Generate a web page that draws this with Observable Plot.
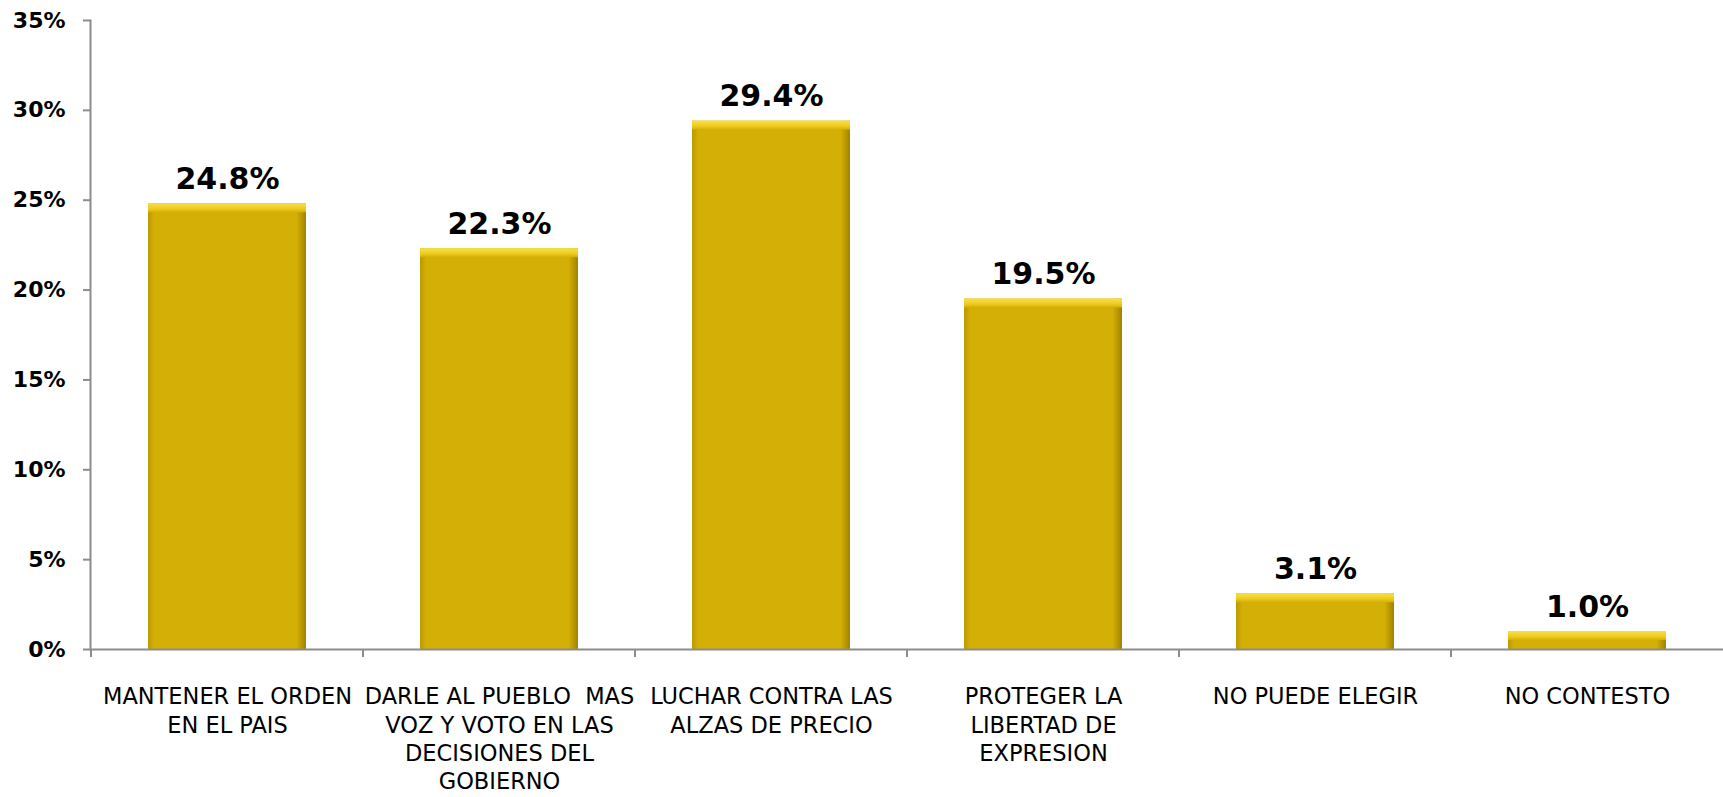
<!DOCTYPE html>
<html>
<head>
<meta charset="utf-8">
<script src="https://cdn.jsdelivr.net/npm/d3@7"></script>
<script src="https://cdn.jsdelivr.net/npm/@observablehq/plot@0.6"></script>
<style>
  html, body { margin: 0; padding: 0; background: #fff; }
  svg { display: block; }
</style>
</head>
<body>
<div id="chart"></div>
<script>
const categories = [
  "MANTENER EL ORDEN\nEN EL PAIS",
  "DARLE AL PUEBLO  MAS\nVOZ Y VOTO EN LAS\nDECISIONES DEL\nGOBIERNO",
  "LUCHAR CONTRA LAS\nALZAS DE PRECIO",
  "PROTEGER LA\nLIBERTAD DE\nEXPRESION",
  "NO PUEDE ELEGIR",
  "NO CONTESTO"
];
const values = [24.8, 22.3, 29.4, 19.5, 3.1, 1.0];
const yTicks = [0, 5, 10, 15, 20, 25, 30, 35];

const data = categories.map((c, i) => ({cat: c, value: values[i]}));

const W = 1723, H = 797;
const font = "DejaVu Sans, Verdana, sans-serif";

const chart = Plot.plot({
  width: W,
  height: H,
  marginTop: 20,
  marginBottom: 148,
  marginLeft: 90,
  marginRight: 0,
  style: {fontFamily: font, background: "#fff", color: "#000"},
  x: {domain: categories, paddingInner: 0.42, paddingOuter: 0.21, label: null},
  y: {domain: [0, 35], label: null},
  marks: [
    Plot.barY(data, {x: "cat", y: "value", fill: "url(#barGrad)", style: "filter:url(#shadow)"}),
    Plot.barY(data, {x: "cat", y1: "value", y2: "value", insetBottom: -9, fill: "url(#topGrad)"}),
    Plot.ruleY([0], {stroke: "#8c8c8c", strokeWidth: 2}),
    Plot.frame({anchor: "left", stroke: "#8c8c8c", strokeWidth: 2}),
    Plot.axisY(yTicks, {
      tickSize: 7, tickPadding: 18, stroke: "#8c8c8c", strokeWidth: 2,
      tickFormat: d => d + "%", fontSize: 22, fontWeight: "bold", fill: "#000", label: null
    }),
    Plot.axisX({
      tickSize: 0, tickPadding: 35, fontSize: 22.5, lineHeight: 1.25, fill: "#000", label: null
    }),
    Plot.text(data, {
      x: "cat", y: "value", text: d => d.value.toFixed(1) + "%",
      dy: -15, lineAnchor: "bottom", fontSize: 30, fontWeight: "bold", fill: "#000"
    })
  ]
});

// gradient / shadow definitions for the bevelled bars
const svg = d3.select(chart);
const defs = svg.insert("defs", ":first-child");
const bg = defs.append("linearGradient").attr("id", "barGrad").attr("x1", 0).attr("x2", 1).attr("y1", 0).attr("y2", 0);
bg.append("stop").attr("offset", "0%").attr("stop-color", "#b99a02");
bg.append("stop").attr("offset", "4%").attr("stop-color", "#d4af06");
bg.append("stop").attr("offset", "94%").attr("stop-color", "#d4af06");
bg.append("stop").attr("offset", "100%").attr("stop-color", "#a08300");
const tg = defs.append("linearGradient").attr("id", "topGrad").attr("x1", 0).attr("x2", 0).attr("y1", 0).attr("y2", 1);
tg.append("stop").attr("offset", "0%").attr("stop-color", "#f8e04a");
tg.append("stop").attr("offset", "60%").attr("stop-color", "#eecb1e");
tg.append("stop").attr("offset", "100%").attr("stop-color", "#d4af06");
const f = defs.append("filter").attr("id", "shadow").attr("x", "-10%").attr("y", "-10%").attr("width", "130%").attr("height", "120%");
f.append("feDropShadow").attr("dx", 3).attr("dy", 1).attr("stdDeviation", 2.5).attr("flood-color", "#000").attr("flood-opacity", 0.35);

// category boundary ticks on the x axis (Excel style), positioned from Plot's own x scale
const xs = chart.scale("x");
const ys = chart.scale("y");
const half = (xs.step - xs.bandwidth) / 2;
const y0 = ys.apply(0);
const g = svg.append("g").attr("stroke", "#8c8c8c").attr("stroke-width", 2);
categories.forEach(c => {
  const bx = xs.apply(c) - half;
  g.append("line").attr("x1", bx).attr("x2", bx).attr("y1", y0).attr("y2", y0 + 8);
});

document.getElementById("chart").appendChild(chart);
</script>
</body>
</html>
